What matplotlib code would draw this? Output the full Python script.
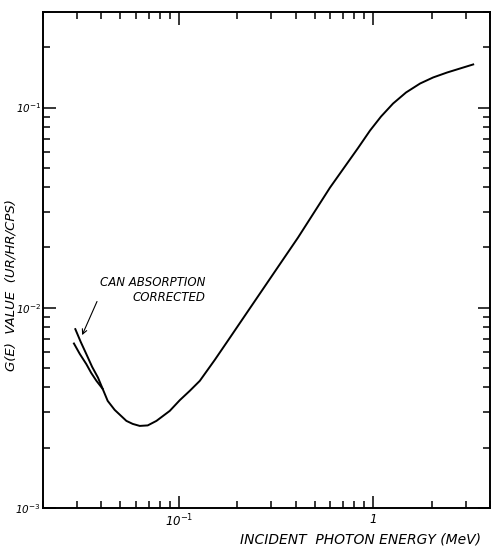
import matplotlib
matplotlib.use('Agg')
import matplotlib.pyplot as plt
from matplotlib.ticker import FixedLocator, LogLocator, NullFormatter

# 读图得到的数据 (MeV, G(E))
# 两条左端分支：罐吸收修正 / 未修正
energy_corr = [0.02934, 0.03126, 0.03343, 0.0358, 0.03837]
g_corr = [0.00782, 0.00676, 0.00587, 0.00507, 0.00448]
energy_unc = [0.02886, 0.0309, 0.03343, 0.0354, 0.03765]
g_unc = [0.00663, 0.00589, 0.00523, 0.00473, 0.00432]

# 合并后的主曲线
energy_main = [0.04057, 0.04305, 0.04677, 0.05374, 0.05793, 0.06295, 0.06922, 0.07674,
               0.08987, 0.1012, 0.1139, 0.1283, 0.1533, 0.1832, 0.2241, 0.2742,
               0.3355, 0.4107, 0.4965, 0.6003, 0.7345, 0.8368, 0.965, 1.0995,
               1.268, 1.479, 1.747, 2.039, 2.407, 2.809, 3.278]
g_main = [0.003936, 0.003428, 0.00309, 0.002723, 0.00263, 0.00257, 0.002585, 0.002723,
          0.003055, 0.003455, 0.003846, 0.004315, 0.005495, 0.007079, 0.009441, 0.01259,
          0.01679, 0.02239, 0.02985, 0.03981, 0.05248, 0.06273, 0.07674, 0.09016,
          0.1047, 0.1189, 0.1318, 0.1413, 0.1496, 0.1567, 0.1641]

x_ticks = [0.1, 1]
x_labels = ['10$^{-1}$', '1']
y_ticks = [1e-3, 1e-2, 1e-1]
y_labels = ['10$^{-3}$', '10$^{-2}$', '10$^{-1}$']

fig = plt.figure(figsize=(4.92, 5.47), dpi=100)
ax = fig.add_axes([0.0874, 0.0713, 0.9085, 0.9068])

ax.plot(energy_corr + energy_main, g_corr + g_main, color='black', lw=1.4,
        solid_joinstyle='round')
ax.plot(energy_unc + energy_main[:1], g_unc + g_main[:1], color='black', lw=1.4,
        solid_joinstyle='round')

ax.set_xscale('log')
ax.set_yscale('log')
ax.set_xlim(0.02, 4.0)
ax.set_ylim(1e-3, 0.3)

ax.xaxis.set_major_locator(FixedLocator(x_ticks))
ax.set_xticklabels(x_labels, fontstyle='italic', fontsize=8.5)
ax.xaxis.set_minor_locator(LogLocator(base=10, subs=range(2, 10)))
ax.xaxis.set_minor_formatter(NullFormatter())
ax.yaxis.set_major_locator(FixedLocator(y_ticks))
ax.set_yticklabels(y_labels, fontstyle='italic', fontsize=7.5)
ax.yaxis.set_minor_locator(LogLocator(base=10, subs=range(2, 10)))
ax.yaxis.set_minor_formatter(NullFormatter())

ax.tick_params(which='both', direction='in', top=True, right=True, width=1.1)
ax.tick_params(which='major', length=9)
ax.tick_params(which='minor', length=5)
ax.tick_params(axis='y', which='major', pad=1.5)
for s in ax.spines.values():
    s.set_linewidth(1.4)

ax.set_xlabel('INCIDENT  PHOTON ENERGY (MeV)', fontstyle='italic', fontsize=10)
ax.xaxis.set_label_coords(0.711, -0.05)
ax.set_ylabel('G(E)  VALUE  (UR/HR/CPS)', fontstyle='italic', fontsize=9.5)
ax.yaxis.set_label_coords(-0.058, 0.45)

ax.annotate('CAN ABSORPTION\nCORRECTED', xy=(0.0318, 0.0073), xytext=(0.0392, 0.0122),
            fontsize=8.5, fontstyle='italic', ha='left', va='center', multialignment='right',
            arrowprops=dict(arrowstyle='->', color='black', lw=0.8, shrinkA=0, shrinkB=0,
                            relpos=(0.02, 0.5)))

fig.savefig('out.png', dpi=100)
